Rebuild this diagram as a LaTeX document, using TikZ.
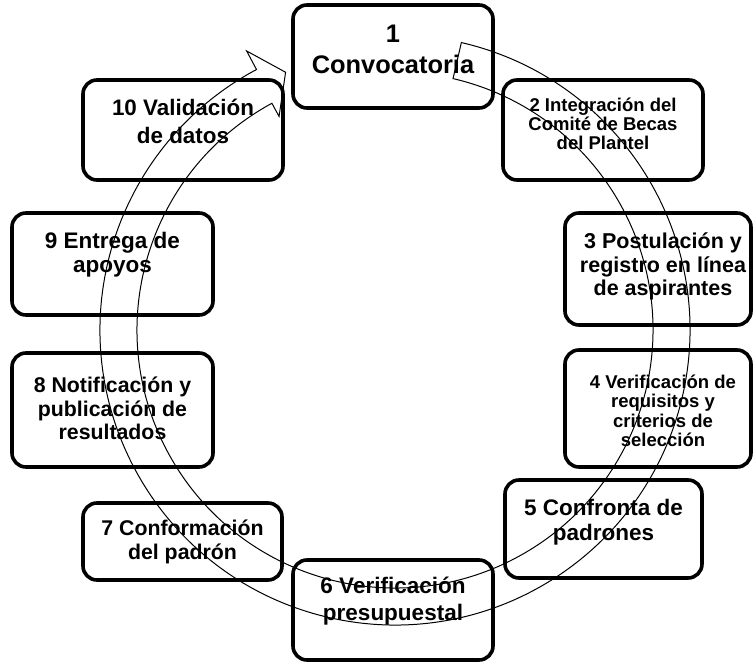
\documentclass[tikz,border=0pt]{standalone}
\usepackage{fontspec}
\setmainfont{Liberation Sans}
\newcommand{\tam}[2]{\fontsize{#1}{#2}\selectfont}
\begin{document}
\begin{tikzpicture}[x=1pt,y=1pt,
    caja/.style={draw, line width=3.6pt, rounded corners=14pt, fill=white, inner sep=0pt},
    texto/.style={align=center, inner sep=0pt, font=\bfseries}]
    \useasboundingbox (0,0) rectangle (753,-663);
    % cajas del ciclo
    \foreach \n/\x/\y/\w/\h in {1/393/56.5/200/103, 2/603/130/200/100, 3/658/269/186/112,
        4/658/408.5/186/117, 5/603.5/529/197/98, 6/393/610/200/100, 7/182.5/541.5/199/77,
        8/112.5/410/201/114, 9/112.5/264/201/102, 10/183/130/200/100}{
        \node[caja, minimum width=\w, minimum height=\h] (c\n) at (\x,-\y) {};
    }
    \node[texto, font=\bfseries\tam{25.4}{31}] (t1) at ([yshift=7.5]c1.center) {1\\Convocatoria};
    \node[texto, font=\bfseries\tam{18.5}{19}] (t2) at ([yshift=6]c2.center) {2 Integración del\\Comité de Becas\\del Plantel};
    \node[texto, font=\bfseries\tam{21.5}{23.5}] (t3) at ([xshift=5,yshift=2.5]c3.center) {3 Postulación y\\registro en línea\\de aspirantes};
    \node[texto, font=\bfseries\tam{18.5}{19.5}] (t4) at ([xshift=5,yshift=-2.5]c4.center) {4 Verificación de\\requisitos y\\criterios de\\selección};
    \node[texto, font=\bfseries\tam{22.5}{25}] (t5) at ([yshift=6.5]c5.center) {5 Confronta de\\padrones};
    \node[texto, font=\bfseries\tam{22.5}{27}] (t6) at ([yshift=8.5]c6.center) {6 Verificación\\presupuestal};
    \node[texto, font=\bfseries\tam{21.3}{24}] (t7) at (c7.center) {7 Conformación\\del padrón};
    \node[texto, font=\bfseries\tam{21.3}{23.5}] (t8) at ([yshift=1.5]c8.center) {8 Notificación y\\publicación de\\resultados};
    \node[texto, font=\bfseries\tam{22.5}{24}] (t9) at ([yshift=9]c9.center) {9 Entrega de\\apoyos};
    \node[texto, font=\bfseries\tam{22.4}{28}] (t10) at ([yshift=9]c10.center) {10 Validación\\de datos};
    % flecha circular
    \coordinate (centro) at (395,-330);
    \draw[line width=1pt, shift={(centro)}] (77:295) arc[start angle=77, end angle=-242, radius=295]
        -- (118:316) -- (113:280) -- (118.5:243) -- (118.5:258)
        arc[start angle=-241.5, end angle=77, radius=258] -- cycle;
\end{tikzpicture}
\end{document}
